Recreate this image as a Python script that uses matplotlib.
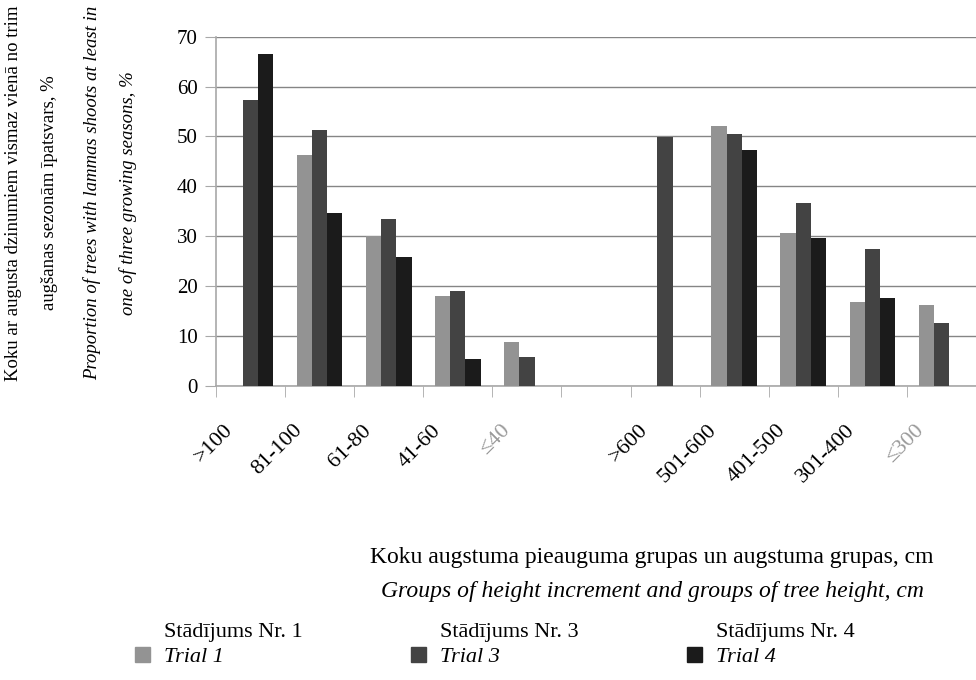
import matplotlib
matplotlib.use("Agg")
import matplotlib.pyplot as plt
import matplotlib.transforms as mtransforms
import numpy as np
from matplotlib.patches import Rectangle

plt.rcParams["font.family"] = ["Liberation Serif", "DejaVu Serif"]

# categories (empty slot separates the two groupings)
categories = [">100", "81-100", "61-80", "41-60", "≤40", "",
              ">600", "501-600", "401-500", "301-400", "≤300"]
trial1 = [0, 46.3, 30.0, 18.0, 8.8, 0, 0, 52.1, 30.6, 16.8, 16.2]
trial3 = [57.3, 51.3, 33.4, 19.0, 5.7, 0, 49.9, 50.5, 36.6, 27.4, 12.6]
trial4 = [66.5, 34.6, 25.8, 5.3, 0, 0, 0, 47.3, 29.6, 17.6, 0]
series_names = [("Stādījums Nr. 1", "Trial 1"),
                ("Stādījums Nr. 3", "Trial 3"),
                ("Stādījums Nr. 4", "Trial 4")]
colors = ["#939393", "#434343", "#1b1b1b"]
faded = {"≤40", "≤300"}

fig = plt.figure(figsize=(9.76, 6.8), dpi=100)
W, H = 976, 680
ax = fig.add_axes([216 / W, 1 - 385.7 / H, (976 - 216) / W, (385.7 - 36.7) / H])

x = np.arange(len(categories))
bw = 0.22
for i, (vals, c) in enumerate(zip([trial1, trial3, trial4], colors)):
    ax.bar(x + (i - 1) * bw, vals, width=bw, color=c, zorder=3, linewidth=0)

ax.set_xlim(-0.5, len(categories) - 0.5)
ax.set_ylim(0, 70)
ax.set_yticks(range(0, 71, 10))
ax.yaxis.grid(True, color="#858585", linewidth=1.0, zorder=0)
for s in ["top", "right"]:
    ax.spines[s].set_visible(False)
for s in ["left", "bottom"]:
    ax.spines[s].set_color("#a8a8a8")
    ax.spines[s].set_linewidth(1.2)
ax.tick_params(axis="y", length=8, color="#a8a8a8", labelsize=15, pad=5)

# category boundaries as tick marks, labels at centres
ax.set_xticks(np.arange(len(categories) + 1) - 0.5, minor=True)
ax.tick_params(axis="x", which="minor", length=8, color="#a8a8a8")
ax.set_xticks(x)
ax.set_xticklabels([])
ax.tick_params(axis="x", which="major", length=0)
offset = mtransforms.ScaledTranslation(-20 / 100, -42 / 100, fig.dpi_scale_trans)
for xi, lab in zip(x, categories):
    if not lab:
        continue
    ax.text(xi, 0, lab, rotation=45, rotation_mode="anchor", ha="right", va="center",
            fontsize=16, color="#999999" if lab in faded else "black",
            transform=ax.get_xaxis_transform() + offset)

# y axis label (Latvian + English)
ylab = [("Koku ar augusta dzinumiem vismaz vienā no trim", 14, "normal"),
        ("augšanas sezonām īpatsvars, %", 50, "normal"),
        ("Proportion of trees with lammas shoots at least in", 92, "italic"),
        ("one of three growing seasons, %", 128, "italic")]
for txt, px, st in ylab:
    fig.text(px / W, 1 - 193 / H, txt, rotation=90, ha="center", va="center",
             fontsize=13.5, style=st)

# x axis label
fig.text(652 / W, 1 - 557 / H, "Koku augstuma pieauguma grupas un augstuma grupas, cm",
         ha="center", va="center", fontsize=17)
fig.text(652 / W, 1 - 592 / H, "Groups of height increment and groups of tree height, cm",
         ha="center", va="center", fontsize=17, style="italic")

# legend
leg_x = [135, 411, 687]
for lx, (lv, en), c in zip(leg_x, series_names, colors):
    fig.patches.append(Rectangle((lx / W, 1 - 662 / H), 15 / W, 15 / H, color=c,
                                 transform=fig.transFigure, figure=fig))
    fig.text((lx + 29) / W, 1 - 633 / H, lv, ha="left", va="center", fontsize=16)
    fig.text((lx + 29) / W, 1 - 657 / H, en, ha="left", va="center", fontsize=16,
             style="italic")

fig.savefig("out.png", dpi=100)
